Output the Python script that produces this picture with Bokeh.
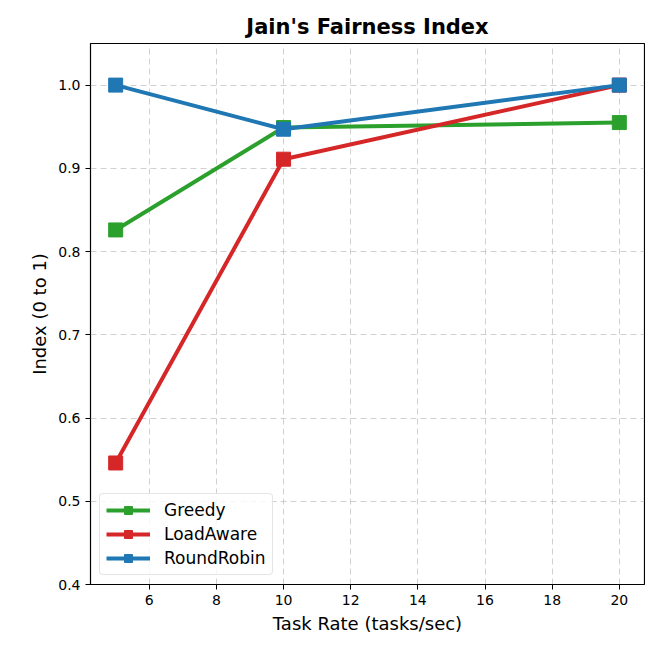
from bokeh.plotting import figure
from bokeh.models import Range1d, FixedTicker, Legend, LegendItem
from bokeh.embed import file_html
from bokeh.resources import INLINE

task_rate = [5, 10, 20]
greedy = [0.826, 0.949, 0.955]
loadaware = [0.546, 0.911, 1.0]
roundrobin = [1.0, 0.947, 1.0]
x_ticks = [6, 8, 10, 12, 14, 16, 18, 20]
y_ticks = [0.4, 0.5, 0.6, 0.7, 0.8, 0.9, 1.0]

p = figure(width=645, height=636, output_backend="svg", toolbar_location=None,
           x_range=Range1d(4.25, 20.75), y_range=Range1d(0.4, 1.05),
           min_border_left=90, min_border_right=1, min_border_top=43, min_border_bottom=44)

p.title.text = "Jain's Fairness Index"
p.title.align = "center"
p.title.text_font = "DejaVu Sans"
p.title.text_font_style = "bold"
p.title.text_font_size = "21px"
p.title.text_color = "black"

p.outline_line_color = "black"
p.outline_line_width = 1.2
p.outline_line_alpha = 1

for ax in (p.xaxis[0], p.yaxis[0]):
    ax.axis_line_color = None
    ax.major_tick_out = 5
    ax.major_tick_in = 0
    ax.minor_tick_out = 0
    ax.minor_tick_in = 0
    ax.major_label_text_font = "DejaVu Sans"
    ax.major_label_text_font_size = "14px"
    ax.major_label_text_color = "black"
    ax.axis_label_text_font = "DejaVu Sans"
    ax.axis_label_text_font_size = "18px"
    ax.axis_label_text_font_style = "normal"
    ax.axis_label_text_color = "black"

p.xaxis.ticker = FixedTicker(ticks=x_ticks)
p.yaxis.ticker = FixedTicker(ticks=y_ticks)
p.yaxis.major_label_overrides = {v: f"{v:.1f}" for v in y_ticks}
p.xaxis.axis_label = "Task Rate (tasks/sec)"
p.yaxis.axis_label = "Index (0 to 1)"

p.grid.grid_line_color = "#b0b0b0"
p.grid.grid_line_alpha = 0.6
p.grid.grid_line_dash = "6 4"
p.grid.grid_line_width = 1

series = [("Greedy", greedy, "#2ca02c"),
          ("LoadAware", loadaware, "#d62728"),
          ("RoundRobin", roundrobin, "#1f77b4")]
items = []
for name, vals, col in series:
    l = p.line(task_rate, vals, line_color=col, line_width=4)
    m = p.scatter(task_rate, vals, marker="square", size=14, fill_color=col, line_color=col)
    items.append(LegendItem(label=name, renderers=[l, m]))

legend = Legend(items=items, location="bottom_left")
legend.label_text_font = "DejaVu Sans"
legend.label_text_font_size = "17px"
legend.label_text_color = "black"
legend.border_line_color = "#cccccc"
legend.border_line_width = 1
legend.border_radius = 4
legend.background_fill_alpha = 0.8
legend.margin = 9
legend.padding = 6
legend.spacing = 4
legend.glyph_width = 44
legend.label_standoff = 14
p.add_layout(legend)

open("out.html", "w").write(file_html(p, INLINE))
